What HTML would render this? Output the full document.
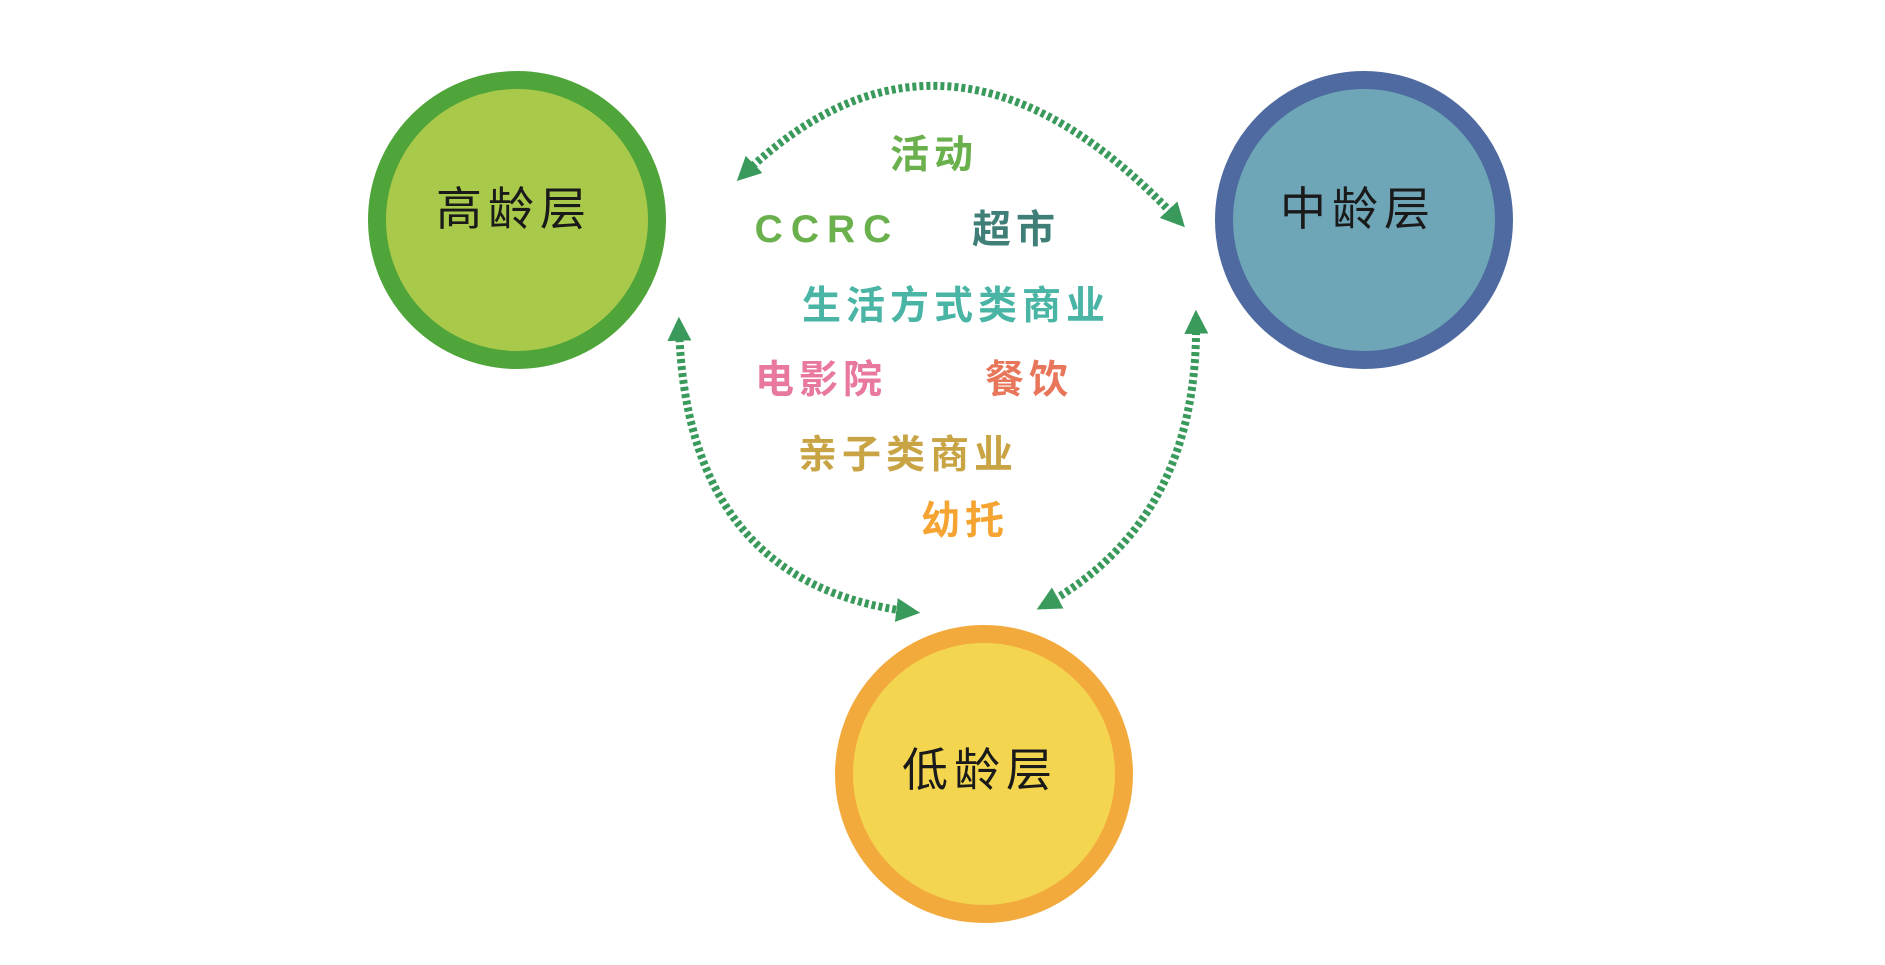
<!DOCTYPE html>
<html><head><meta charset="utf-8"><style>
body{margin:0;background:#fff;}
svg text{font-family:"Liberation Sans","Noto Sans CJK SC",sans-serif;}
</style></head><body>
<svg width="1885" height="960" viewBox="0 0 1885 960" xmlns="http://www.w3.org/2000/svg">
<defs>
<marker id="ah" viewBox="0 0 10 10" refX="7" refY="5" markerWidth="3" markerHeight="3" orient="auto-start-reverse" markerUnits="strokeWidth">
<path d="M0,0 L10,5 L0,10 Z" fill="#3a9a5c"/>
</marker>
</defs>
<rect width="1885" height="960" fill="#fff"/>
<circle cx="517" cy="220" r="140" fill="#a9c94a" stroke="#4fa43a" stroke-width="18"/>
<circle cx="1364" cy="220" r="140" fill="#6ea6b8" stroke="#4e6aa0" stroke-width="18"/>
<circle cx="984" cy="774" r="140" fill="#f3d550" stroke="#f3aa3d" stroke-width="18"/>
<g font-size="46" fill="#1a1a1a" text-anchor="middle" letter-spacing="6">
<text x="514" y="225">高龄层</text>
<text x="1358" y="225">中龄层</text>
<text x="980" y="786">低龄层</text>
</g>
<g fill="none" stroke="#3a9a5c" stroke-width="8" stroke-dasharray="4 3">
<path d="M742,176 Q950,-25 1180,222" marker-start="url(#ah)" marker-end="url(#ah)"/>
<path d="M679,324 Q685,585 913,612" marker-start="url(#ah)" marker-end="url(#ah)"/>
<path d="M1196,317 Q1200,520 1043,606" marker-start="url(#ah)" marker-end="url(#ah)"/>
</g>
<g font-size="39" font-weight="bold" text-anchor="middle" letter-spacing="5">
<text x="934" y="168" fill="#6ab04c">活动</text>
<text x="827" y="242" fill="#6ab04c" letter-spacing="8">CCRC</text>
<text x="1016" y="243" fill="#3f7f78">超市</text>
<text x="956" y="319" fill="#4bb5a5">生活方式类商业</text>
<text x="821" y="393" fill="#e8789e">电影院</text>
<text x="1029" y="393" fill="#e8765a">餐饮</text>
<text x="908" y="468" fill="#c9a445">亲子类商业</text>
<text x="965" y="534" fill="#f5a432">幼托</text>
</g>
</svg>
</body></html>
